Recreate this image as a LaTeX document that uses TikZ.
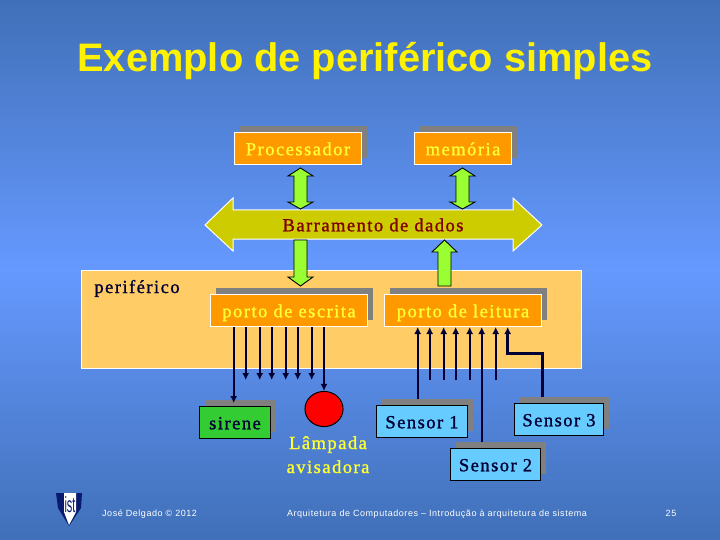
\documentclass[tikz,border=0pt]{standalone}
\usepackage{fontspec}
\setmainfont{Liberation Serif}
\setsansfont{Liberation Sans}
\usetikzlibrary{arrows.meta,calc}
\definecolor{bgedge}{HTML}{4070B8}
\definecolor{bgmid}{HTML}{6699FF}
\definecolor{boxorange}{HTML}{FF9900}
\definecolor{panel}{HTML}{FFCC66}
\definecolor{busfill}{HTML}{CCCC00}
\definecolor{arrowgreen}{HTML}{99FF33}
\definecolor{sirgreen}{HTML}{33CC33}
\definecolor{sensorblue}{HTML}{66CCFF}
\definecolor{shadowgray}{HTML}{808080}
\definecolor{txtyellow}{HTML}{FFFF33}
\definecolor{navy}{HTML}{000033}
\definecolor{busred}{HTML}{800000}
\definecolor{shieldblue}{HTML}{0A1A6E}
\newfontfamily\serifspaced[LetterSpace=8,FakeBold=1.2]{Liberation Serif}
\newfontfamily\footfont[LetterSpace=6]{Liberation Sans}
\tikzset{
  x=1pt,y=-1pt,
  boxtext/.style={font=\fontsize{18.5}{18.5}\selectfont\serifspaced, inner sep=0pt,text height=13.5pt,text depth=0pt},
  orangebox/.style={draw=white,line width=1pt,fill=boxorange,text=txtyellow,boxtext},
  sensorbox/.style={draw=black,line width=1pt,fill=sensorblue,text=navy,boxtext},
  sirenbox/.style={draw=black,line width=1pt,fill=sirgreen,text=navy,boxtext},
  shadowbox/.style={fill=shadowgray,draw=none},
  blockarrow/.style={draw=black,line width=0.9pt,fill=arrowgreen,line join=miter},
  wire/.style={draw=navy,line width=2pt,-{Latex[length=7pt,width=7pt]}},
  thickwire/.style={draw=navy,line width=3pt,-{Latex[length=7pt,width=7pt]}},
  footer/.style={font=\fontsize{9}{9}\selectfont\footfont,text=white,inner sep=0pt},
}
% box macro: name, style, x1,y1,x2,y2, text
\newcommand{\shadowednode}[7]{%
  \fill[shadowbox] (#3+6,#4-6) rectangle (#5+6,#6-6);
  \node[#2,minimum width=#5pt-#3pt,minimum height=#6pt-#4pt,anchor=north west] (#1) at (#3,#4) {#7};
}
\begin{document}
\begin{tikzpicture}
\useasboundingbox (0,0) rectangle (720,540);
\shade[top color=bgedge,bottom color=bgedge,middle color=bgmid] (0,0) rectangle (720,540);
% title
\node[font=\fontsize{39.8}{40}\selectfont\sffamily\bfseries,text=yellow,inner sep=0pt,anchor=base] (title) at (365,72) {Exemplo de periférico simples};
% panel
\node[draw=white,line width=1pt,fill=panel,minimum width=500pt,minimum height=98pt,anchor=north west,inner sep=0pt] (panel) at (81,270) {};
\node[font=\fontsize{18.5}{18.5}\selectfont\serifspaced,text=navy,inner sep=0pt,anchor=base] (perif) at (137,293) {periférico};
% boxes
\shadowednode{proc}{orangebox}{234}{132}{361}{164}{Processador}
\shadowednode{mem}{orangebox}{414}{132}{511}{164}{memória}
\shadowednode{pe}{orangebox}{210}{294}{367}{326}{porto de escrita}
\shadowednode{pl}{orangebox}{384}{294}{541}{326}{porto de leitura}
\shadowednode{sir}{sirenbox}{199}{406}{270}{438}{sirene}
\shadowednode{s1}{sensorbox}{376}{405}{467}{437}{Sensor 1}
\shadowednode{s2}{sensorbox}{450}{448}{540}{480}{Sensor 2}
\shadowednode{s3}{sensorbox}{514}{403}{603}{435}{Sensor 3}
% bus
\draw[draw=white,line width=1pt,fill=busfill] (205,225) -- (233,198) -- (233,210) -- (513,210) -- (513,198) -- (542,225) -- (513,251) -- (513,239) -- (233,239) -- (233,251) -- cycle;
\node[font=\fontsize{18.5}{18.5}\selectfont\serifspaced,text=busred,inner sep=0pt] (bus) at (373,225) {Barramento de dados};
% double arrows
\draw[blockarrow] (300.5,168) -- (313,176) -- (307,176) -- (307,202) -- (313,202) -- (300.5,209) -- (288,202) -- (294,202) -- (294,176) -- (288,176) -- cycle;
\draw[blockarrow] (462.5,168) -- (475,176) -- (469,176) -- (469,202) -- (475,202) -- (462.5,209) -- (450,202) -- (456,202) -- (456,176) -- (450,176) -- cycle;
% down arrow
\draw[blockarrow] (294,240) -- (307,240) -- (307,277) -- (313,277) -- (300.5,286) -- (288,277) -- (294,277) -- cycle;
% up arrow
\draw[blockarrow] (444.5,240) -- (457,252) -- (451,252) -- (451,286) -- (438,286) -- (438,252) -- (432,252) -- cycle;
% lamp
\node[draw=black,line width=1pt,fill=red,circle,minimum size=37pt,inner sep=0pt,xscale=1.03,yscale=0.95] (lamp) at (324,409) {};
\node[font=\fontsize{18.5}{24}\selectfont\serifspaced,text=txtyellow,inner sep=0pt,anchor=base] (lamptxt1) at (328,449) {Lâmpada};
\node[font=\fontsize{18.5}{24}\selectfont\serifspaced,text=txtyellow,inner sep=0pt,anchor=base] (lamptxt2) at (328,473) {avisadora};
% write wires
\foreach \i/\xx in {2/245.7,3/259.7,4/271.7,5/285.7,6/297.7,7/311.7}{
  \coordinate (w\i) at (\xx,380);
  \draw[wire] (pe.south -| w\i) -- (w\i);
}
\coordinate (w1) at (233.7,403);
\draw[wire] (pe.south -| w1) -- (w1);
\coordinate (w8) at (lamp.north);
\draw[wire] (pe.south -| w8) -- (w8);
% read wires
\foreach \i/\xx in {2/429.7,3/443.7,4/455.7,5/469.7,7/495.7}{
  \coordinate (r\i) at (\xx,380);
  \draw[wire] (r\i) -- (pl.south -| r\i);
}
\coordinate (r1) at (417.7,399);
\draw[wire] (r1) -- (pl.south -| r1);
\coordinate (r6) at (481.7,442);
\draw[wire] (r6) -- (pl.south -| r6);
\coordinate (s3t) at (542,397);
\coordinate (r8) at (507.7,353);
\draw[thickwire] (s3t) |- (r8) -- (pl.south -| r8);
% logo
\fill[shieldblue] (56,493) -- (82,493) -- (81,508) -- (69,526) -- (58,508) -- cycle;
\fill[white] (64,493) -- (76,493) -- (76,512) -- (69,525) -- (64,512) -- cycle;
\node[font=\fontsize{11}{11}\selectfont\sffamily,text=shieldblue,inner sep=0pt,yscale=2] (logo) at (70,505) {ist};
% footer
\node[footer,anchor=base west] (f1) at (102,516) {José Delgado © 2012};
\node[footer,anchor=base] (f2) at (437,516) {Arquitetura de Computadores – Introdução à arquitetura de sistema};
\node[footer,anchor=base] (f3) at (671,516) {25};
\end{tikzpicture}
\end{document}
